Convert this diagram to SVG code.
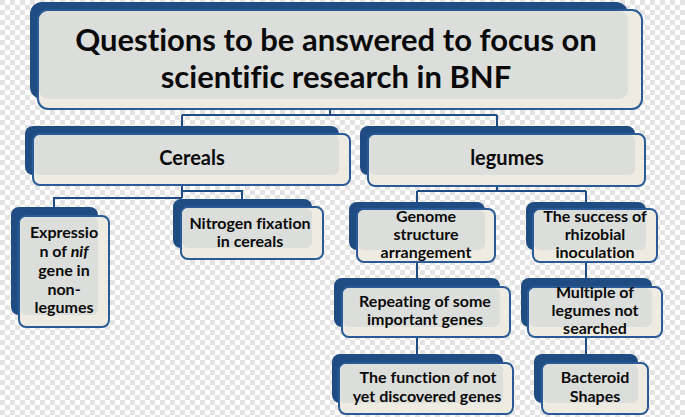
<svg xmlns="http://www.w3.org/2000/svg" width="685" height="417" viewBox="0 0 685 417">
<defs>
<pattern id="chk" width="10" height="10" patternUnits="userSpaceOnUse">
<rect width="10" height="10" fill="#ffffff"/>
<rect width="5" height="5" fill="#e3e3e3"/>
<rect x="5" y="5" width="5" height="5" fill="#e3e3e3"/>
</pattern>
<style>
.back{fill:#1f4c83}
.front{fill:#eeece2;stroke:#2a5b97;stroke-width:2}
.inner{fill:#dcdedb}
.t{font-family:Lato,"Open Sans","Liberation Sans",sans-serif;font-weight:bold;text-anchor:middle;fill:#0a0a0a;font-variant-ligatures:none}
.s{font-size:16px}
.c{fill:none;stroke:#1f4c83;stroke-width:2}
</style>
</defs>
<rect width="685" height="417" fill="url(#chk)"/>
<g id="connectors">
<path class="c" d="M330 109 V115 M182 115 H497 M182 115 V127 M497 115 V127"/>
<path class="c" d="M182 185 V198 M182 191 H242 V200 M182 198 H54 V208"/>
<path class="c" d="M497 186 V191 M417 191 H586 M417 191 V203 M586 191 V203"/>
<path class="c" d="M417 262 V279 M417 337 V355"/>
<path class="c" d="M586 262 V279 M586 337 V355"/>
</g>
<g id="title">
<rect class="back" x="30" y="2" width="598" height="97" rx="12"/>
<rect class="front" x="38" y="10" width="604" height="99" rx="10"/>
<rect class="inner" x="39" y="11" width="589" height="88" rx="9"/>
<text class="t" x="336" y="51" font-size="31">Questions to be answered to focus on</text>
<text class="t" x="336" y="88" font-size="31">scientific research in BNF</text>
</g>
<g id="cereals">
<rect class="back" x="25" y="126" width="314" height="49" rx="8"/>
<rect class="front" x="33" y="134" width="317" height="51" rx="7"/>
<rect class="inner" x="34" y="135" width="305" height="40" rx="6"/>
<text class="t" x="192" y="165" font-size="20">Cereals</text>
</g>
<g id="legumes">
<rect class="back" x="360" y="126" width="275" height="49" rx="8"/>
<rect class="front" x="368" y="134" width="277" height="52" rx="7"/>
<rect class="inner" x="369" y="135" width="266" height="40" rx="6"/>
<text class="t" x="507" y="165" font-size="20">legumes</text>
</g>
<g id="expression">
<rect class="back" x="11" y="207" width="87" height="108" rx="8"/>
<rect class="front" x="19" y="216" width="90" height="111" rx="7"/>
<rect class="inner" x="20" y="217" width="78" height="98" rx="6"/>
<text class="t s" x="64" y="238">Expressio</text>
<text class="t s" x="64" y="257">n of <tspan font-style="italic">nif</tspan></text>
<text class="t s" x="64" y="276">gene in</text>
<text class="t s" x="64" y="295">non-</text>
<text class="t s" x="64" y="313">legumes</text>
</g>
<g id="nitrogen">
<rect class="back" x="173" y="199" width="139" height="49" rx="8"/>
<rect class="front" x="181" y="207" width="142" height="52" rx="7"/>
<rect class="inner" x="182" y="208" width="130" height="40" rx="6"/>
<text class="t s" x="250" y="229">Nitrogen fixation</text>
<text class="t s" x="250" y="247">in cereals</text>
</g>
<g id="genome">
<rect class="back" x="349" y="202" width="136" height="48" rx="8"/>
<rect class="front" x="357" y="209" width="138" height="53" rx="7"/>
<rect class="inner" x="358" y="210" width="127" height="40" rx="6"/>
<text class="t s" x="426" y="222">Genome</text>
<text class="t s" x="426" y="240">structure</text>
<text class="t s" x="426" y="258">arrangement</text>
</g>
<g id="success">
<rect class="back" x="526" y="202" width="120" height="48" rx="8"/>
<rect class="front" x="533" y="209" width="124" height="53" rx="7"/>
<rect class="inner" x="534" y="210" width="112" height="40" rx="6"/>
<text class="t s" x="595" y="222">The success of</text>
<text class="t s" x="595" y="240">rhizobial</text>
<text class="t s" x="595" y="258">inoculation</text>
</g>
<g id="repeating">
<rect class="back" x="334" y="278" width="166" height="49" rx="8"/>
<rect class="front" x="342" y="287" width="168" height="50" rx="7"/>
<rect class="inner" x="343" y="288" width="157" height="39" rx="6"/>
<text class="t s" x="425" y="307">Repeating of some</text>
<text class="t s" x="425" y="325">important genes</text>
</g>
<g id="multiple">
<rect class="back" x="521" y="278" width="131" height="49" rx="8"/>
<rect class="front" x="528" y="287" width="134" height="50" rx="7"/>
<rect class="inner" x="529" y="288" width="123" height="39" rx="6"/>
<text class="t s" x="595" y="298">Multiple of</text>
<text class="t s" x="595" y="316">legumes not</text>
<text class="t s" x="595" y="334">searched</text>
</g>
<g id="function">
<rect class="back" x="332" y="354" width="171" height="49" rx="8"/>
<rect class="front" x="339" y="363" width="174" height="51" rx="7"/>
<rect class="inner" x="340" y="364" width="163" height="39" rx="6"/>
<text class="t s" x="428" y="383">The function of not</text>
<text class="t s" x="427" y="402">yet discovered genes</text>
</g>
<g id="bacteroid">
<rect class="back" x="534" y="354" width="104" height="49" rx="8"/>
<rect class="front" x="542" y="363" width="106" height="51" rx="7"/>
<rect class="inner" x="543" y="364" width="95" height="39" rx="6"/>
<text class="t s" x="595" y="383">Bacteroid</text>
<text class="t s" x="595" y="402">Shapes</text>
</g>
</svg>
